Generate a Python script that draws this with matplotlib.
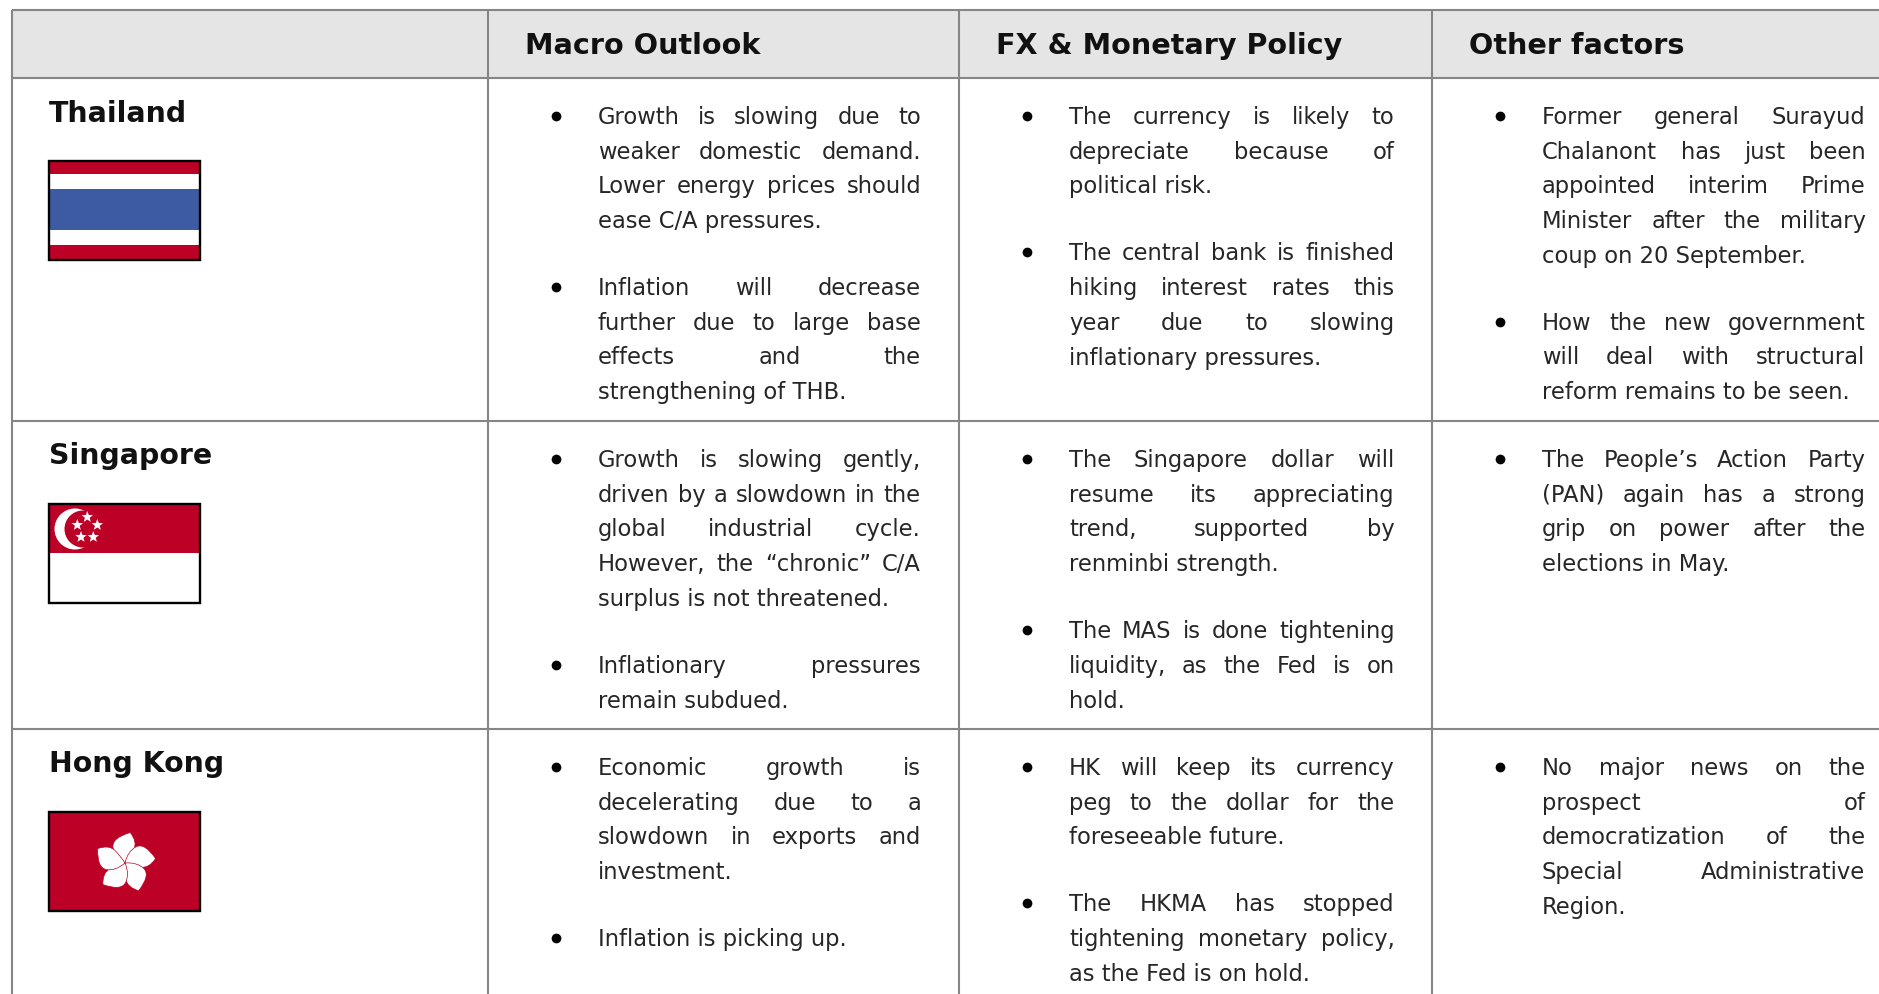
import numpy as np
import matplotlib
matplotlib.use("Agg")
import matplotlib.pyplot as plt
from matplotlib.patches import Rectangle, Polygon, Circle, PathPatch
from matplotlib.path import Path

W, H = 1879, 994

headers = ["Macro Outlook", "FX & Monetary Policy", "Other factors"]
countries = ["Thailand", "Singapore", "Hong Kong"]

thailand_macro = [
    ["Growth is slowing due to", "weaker domestic demand.", "Lower energy prices should", "ease C/A pressures."],
    ["Inflation will decrease", "further due to large base", "effects and the", "strengthening of THB."],
]
thailand_fx = [
    ["The currency is likely to", "depreciate because of", "political risk."],
    ["The central bank is finished", "hiking interest rates this", "year due to slowing", "inflationary pressures."],
]
thailand_other = [
    ["Former general Surayud", "Chalanont has just been", "appointed interim Prime", "Minister after the military", "coup on 20 September."],
    ["How the new government", "will deal with structural", "reform remains to be seen."],
]
singapore_macro = [
    ["Growth is slowing gently,", "driven by a slowdown in the", "global industrial cycle.", "However, the \u201cchronic\u201d C/A", "surplus is not threatened."],
    ["Inflationary pressures", "remain subdued."],
]
singapore_fx = [
    ["The Singapore dollar will", "resume its appreciating", "trend, supported by", "renminbi strength."],
    ["The MAS is done tightening", "liquidity, as the Fed is on", "hold."],
]
singapore_other = [
    ["The People\u2019s Action Party", "(PAN) again has a strong", "grip on power after the", "elections in May."],
]
hongkong_macro = [
    ["Economic growth is", "decelerating due to a", "slowdown in exports and", "investment."],
    ["Inflation is picking up."],
]
hongkong_fx = [
    ["HK will keep its currency", "peg to the dollar for the", "foreseeable future."],
    ["The HKMA has stopped", "tightening monetary policy,", "as the Fed is on hold."],
]
hongkong_other = [
    ["No major news on the", "prospect of", "democratization of the", "Special Administrative", "Region."],
]

rows = [
    [thailand_macro, thailand_fx, thailand_other],
    [singapore_macro, singapore_fx, singapore_other],
    [hongkong_macro, hongkong_fx, hongkong_other],
]

# layout in pixels
col_lines = [12, 488, 959, 1432]
row_lines = [10, 78, 421, 729]
header_x = [525, 996, 1469]
bullet_x = [556, 1027, 1500]
text_left = [598, 1069, 1542]
text_right = [921, 1394.5, 1865.5]
row_first_y = [115, 458, 766]
name_y = [110.5, 453.5, 761.5]
flag_top = [160.5, 504, 812]
line_h = 34.7
para_gap = 67
BODY_SIZE = 16.3

BODY = "#262626"
RED = "#bc0026"
BLUE = "#3d5ba3"
GRID = "#868686"

plt.rcParams["font.family"] = ["DejaVu Sans"]

fig = plt.figure(figsize=(W / 100, H / 100), dpi=100)
ax = fig.add_axes([0, 0, 1, 1])
ax.set_xlim(0, W)
ax.set_ylim(H, 0)
ax.axis("off")
renderer = fig.canvas.get_renderer()


def word_width(word):
    t = ax.text(0, 0, word, fontsize=BODY_SIZE)
    w = t.get_window_extent(renderer).width
    t.remove()
    return w


def draw_line(line, x0, x1, y, justify):
    words = line.split(" ")
    if not justify or len(words) == 1:
        ax.text(x0, y, line, fontsize=BODY_SIZE, color=BODY, va="center_baseline", ha="left")
        return
    widths = [word_width(w) for w in words]
    gap = (x1 - x0 - sum(widths)) / (len(words) - 1)
    x = x0
    for w, ww in zip(words, widths):
        ax.text(x, y, w, fontsize=BODY_SIZE, color=BODY, va="center_baseline", ha="left")
        x += ww + gap


def draw_cell(paras, c, y):
    for para in paras:
        ax.plot(bullet_x[c], y + 1, "o", ms=7, color="black", mew=0)
        for i, line in enumerate(para):
            draw_line(line, text_left[c], text_right[c], y, i < len(para) - 1)
            y += line_h
        y += para_gap - line_h


def star(cx, cy, r):
    ang = np.deg2rad(-90 + 36 * np.arange(10))
    rad = np.where(np.arange(10) % 2 == 0, r, r * 0.42)
    return np.column_stack([cx + rad * np.cos(ang), cy + rad * np.sin(ang)])


def flag_thailand(top):
    h = 99
    bands = [(0, 0.14, RED), (0.14, 0.29, "white"), (0.29, 0.70, BLUE), (0.70, 0.85, "white"), (0.85, 1, RED)]
    for a, b, col in bands:
        ax.add_patch(Rectangle((49.5, top + a * h), 151, (b - a) * h, fc=col, ec="none"))


def flag_singapore(top):
    ax.add_patch(Rectangle((49.5, top), 151, 49, fc=RED, ec="none"))
    ax.add_patch(Circle((75, top + 25), 20.5, fc="white", ec="none"))
    ax.add_patch(Circle((83, top + 25), 18.5, fc=RED, ec="none"))
    for dx, dy in [(87.3, 13), (77.3, 21), (97.3, 21), (81, 33), (93.3, 33)]:
        ax.add_patch(Polygon(star(dx, top + dy, 6), fc="white", ec="none"))


def flag_hongkong(top):
    ax.add_patch(Rectangle((49.5, top), 151, 99, fc=RED, ec="none"))
    cx, cy = 125, top + 51
    verts = 1.05 * np.array([[0, 0], [-10, -6], [-11.5, -15], [-12.5, -24], [5, -29], [12, -20], [8.5, -13], [5, -6], [0, 0]], float)
    codes = [Path.MOVETO] + [Path.CURVE3] * 8
    for k in range(5):
        a = np.deg2rad(72 * k)
        rot = np.array([[np.cos(a), -np.sin(a)], [np.sin(a), np.cos(a)]])
        pts = verts @ rot.T + [cx, cy]
        ax.add_patch(PathPatch(Path(pts, codes), fc="white", ec=RED, lw=0.5))


# header band
ax.add_patch(Rectangle((col_lines[0], row_lines[0]), W - col_lines[0], row_lines[1] - row_lines[0], fc="#e5e5e5", ec="none"))

for x in col_lines:
    ax.plot([x, x], [row_lines[0], H], color=GRID, lw=1.5, solid_capstyle="butt")
for y in row_lines:
    ax.plot([col_lines[0], W], [y, y], color=GRID, lw=1.5, solid_capstyle="butt")

for name, x in zip(headers, header_x):
    ax.text(x, 43.5, name, fontsize=20.6, fontweight="bold", color="#111111", va="center_baseline", ha="left")

flag_funcs = [flag_thailand, flag_singapore, flag_hongkong]
for r in range(3):
    ax.text(49, name_y[r], countries[r], fontsize=20.4, fontweight="bold", color="#111111", va="center_baseline", ha="left")
    flag_funcs[r](flag_top[r])
    ax.add_patch(Rectangle((49.5, flag_top[r]), 151, 99, fc="none", ec="black", lw=1.7))
    for c in range(3):
        draw_cell(rows[r][c], c, row_first_y[r])

fig.savefig("out.png", dpi=100)
